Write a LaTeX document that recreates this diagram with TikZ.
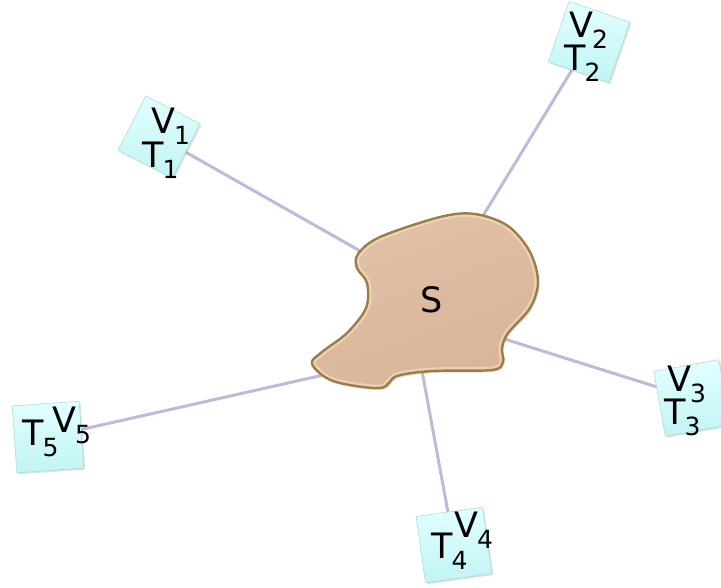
\documentclass[tikz,border=0pt]{standalone}
\usepackage{fontspec}
\setmainfont{DejaVu Sans}
\usetikzlibrary{shadows,backgrounds}

\definecolor{linkcol}{HTML}{BDBADB}
\definecolor{boxtop}{HTML}{E2FFFF}
\definecolor{boxbot}{HTML}{C2F4F4}
\definecolor{boxedge}{HTML}{AEDCDC}
\definecolor{blobtop}{HTML}{E0C1A7}
\definecolor{blobbot}{HTML}{D9B498}
\definecolor{blobrim}{HTML}{9C7C48}
\definecolor{blobhi}{HTML}{F2DDBC}

% lowered index after a letter
\newcommand\ix[1]{\kern-1pt\raisebox{-11pt}{\fontsize{25}{25}\selectfont #1}}

\begin{document}
\begin{tikzpicture}[x=1pt, y=-1pt,
    tbox/.style={draw=boxedge, line width=0.6pt, inner sep=0pt,
      top color=boxtop, bottom color=boxbot,
      drop shadow={opacity=0.25, shadow xshift=1.5pt, shadow yshift=-1.5pt}},
    lbl/.style={inner sep=0pt, anchor=base west, font=\fontsize{35}{35}\selectfont},
    link/.style={draw=linkcol, line width=3pt}]
  \useasboundingbox (0,0) rectangle (721,587);

  % the five boxes
  \node[tbox, minimum size=61pt, rotate=-27] (t1) at (159,137) {};
  \node[tbox, minimum size=64pt, rotate=-19] (t2) at (589,42) {};
  \node[tbox, minimum size=66pt, rotate=10] (t3) at (692,398) {};
  \node[tbox, minimum size=67pt, rotate=8] (t4) at (454,545) {};
  \node[tbox, minimum size=67pt, rotate=4] (t5) at (48,437) {};

  % texts in the boxes
  \node[lbl] (v1) at (151,133) {V\ix{1}};
  \node[lbl] (n1) at (142,167) {T\ix{1}};
  \node[lbl] (v2) at (569,37) {V\ix{2}};
  \node[lbl] (n2) at (564,70) {T\ix{2}};
  \node[lbl] (v3) at (667,391) {V\ix{3}};
  \node[lbl] (n3) at (664,424) {T\ix{3}};
  \node[lbl] (v4) at (454,537) {V\ix{4}};
  \node[lbl] (n4) at (431,558) {T\ix{4}};
  \node[lbl] (v5) at (52,432) {V\ix{5}};
  \node[lbl] (n5) at (22,445) {T\ix{5}};

  % region S
  \path[save path=\blobp, top color=blobtop, bottom color=blobbot, shading angle=20,
      drop shadow={opacity=0.25, shadow xshift=1.5pt, shadow yshift=-2pt}]
    plot[smooth cycle, tension=0.55] coordinates {
      (358,254) (380,237) (440,217) (475,214) (508,226) (530,252)
      (538,282) (530,308) (508,333) (502,348) (503,362) (492,370)
      (433,371) (397,376) (380,388) (333,381) (312,364) (322,352)
      (347,333) (366,308) (367,283) (357,268)};
  \begin{scope}
    \clip[use path=\blobp];
    \draw[use path=\blobp, draw=blobhi, line width=7pt, opacity=0.7];
  \end{scope}
  \draw[use path=\blobp, draw=blobrim, line width=2.4pt];
  \node[lbl] (s) at (420,312) {S};

  % links from the boxes into S
  \begin{scope}[on background layer]
    \coordinate (e1) at (369,256);
    \coordinate (e2) at (478,224);
    \coordinate (e3) at (498,337);
    \coordinate (e4) at (420,360);
    \coordinate (e5) at (328,374);
    \draw[link] (t1.center) -- (e1);
    \draw[link] (t2.center) -- (e2);
    \draw[link] (t3.center) -- (e3);
    \draw[link] (t4.center) -- (e4);
    \draw[link] (t5.center) -- (e5);
  \end{scope}
\end{tikzpicture}
\end{document}
